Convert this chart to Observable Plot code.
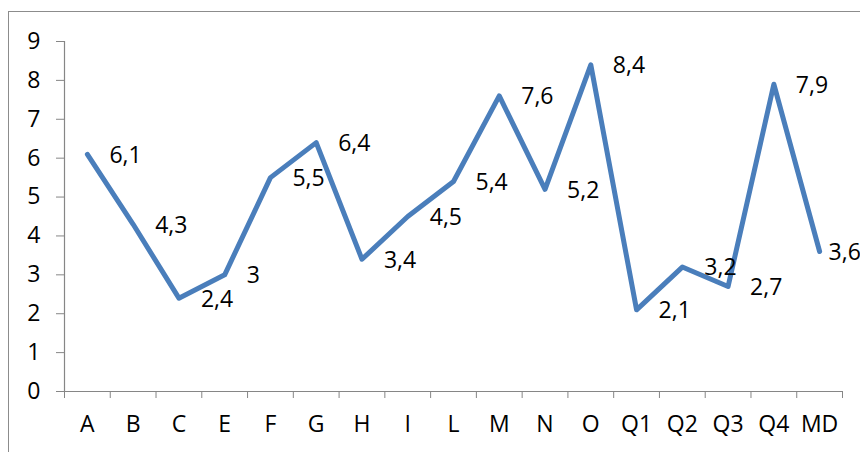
<!DOCTYPE html>
<html>
<head>
<meta charset="utf-8">
<script src="https://cdn.jsdelivr.net/npm/d3@7"></script>
<script src="https://cdn.jsdelivr.net/npm/@observablehq/plot@0.6"></script>
<style>
  html, body { margin: 0; padding: 0; background: #fff; overflow: hidden; }
  #wrap { position: relative; width: 860px; height: 452px; overflow: hidden; }
  #border { position: absolute; left: 8px; top: 11px; width: 1000px; height: 1000px;
            border-left: 1px solid #8c8c8c; border-top: 1px solid #8c8c8c; }
  #chart { position: absolute; left: 0; top: 0; }
</style>
</head>
<body>
<div id="wrap"><div id="border"></div><div id="chart"></div></div>
<script>
const categories = ["A","B","C","E","F","G","H","I","L","M","N","O","Q1","Q2","Q3","Q4","MD"];
const values = [6.1, 4.3, 2.4, 3, 5.5, 6.4, 3.4, 4.5, 5.4, 7.6, 5.2, 8.4, 2.1, 3.2, 2.7, 7.9, 3.6];
const yTicks = [0, 1, 2, 3, 4, 5, 6, 7, 8, 9];

const data = categories.map((c, i) => ({cat: c, pos: i + 0.5, value: values[i]}));
const fmt = v => String(v).replace(".", ",");
const font = "'Open Sans', sans-serif";
const axisGray = "#868686";
const inner = data.slice(0, -1);
const last = data.slice(-1);

const chart = Plot.plot({
  width: 860,
  height: 452,
  marginLeft: 64,
  marginRight: 18,
  marginTop: 41,
  marginBottom: 61,
  style: {fontFamily: font, fontSize: "23px", color: "#000", background: "transparent", overflow: "visible"},
  x: {domain: [0, categories.length]},
  y: {domain: [0, 9]},
  marks: [
    Plot.ruleY([0], {stroke: axisGray, strokeWidth: 1.2}),
    Plot.ruleX([0], {y1: 0, y2: 9, stroke: axisGray, strokeWidth: 1.2}),
    Plot.axisY({ticks: yTicks, tickSize: 8, tickPadding: 16, stroke: axisGray, fill: "#000", fontSize: 23, label: null, tickFormat: d => String(d)}),
    Plot.axisX({ticks: d3.range(0, categories.length + 1), tickSize: 7, stroke: axisGray, tickFormat: () => "", label: null}),
    Plot.axisX({ticks: data.map(d => d.pos), tickSize: 0, tickPadding: 24, fill: "#000", fontSize: 23, label: null,
                tickFormat: v => categories[Math.floor(v)]}),
    Plot.line(data, {x: "pos", y: "value", stroke: "#4a7ebb", strokeWidth: 5, strokeLinejoin: "round", strokeLinecap: "round"}),
    Plot.text(inner, {x: "pos", y: "value", text: d => fmt(d.value), dx: 22, dy: 1, textAnchor: "start", fontSize: 23, fill: "#000"}),
    Plot.text(last, {x: "pos", y: "value", text: d => fmt(d.value), dx: 9, dy: 1, textAnchor: "start", fontSize: 23, fill: "#000"})
  ]
});
document.getElementById("chart").appendChild(chart);
</script>
</body>
</html>
